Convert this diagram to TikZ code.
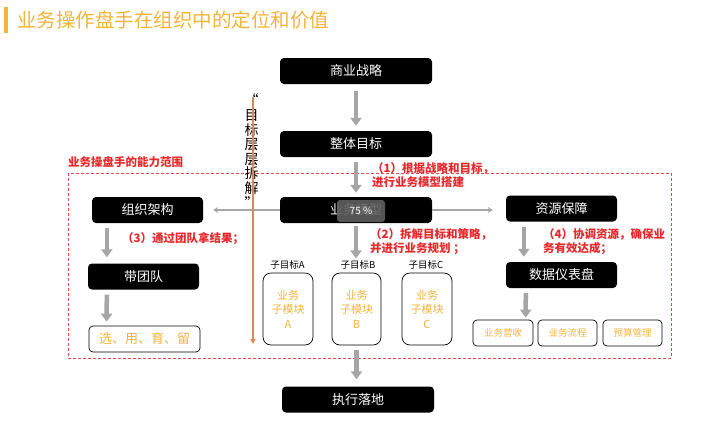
\documentclass[tikz,border=0pt]{standalone}
\usepackage{fontspec}
\newfontfamily\cjk{Noto Sans CJK SC}
\usetikzlibrary{arrows.meta}
\definecolor{gold}{HTML}{F3B43C}
\definecolor{redc}{HTML}{E8282B}
\definecolor{arrowgray}{HTML}{A6A6A6}
\definecolor{orangeline}{HTML}{E0874F}
\begin{document}
\begin{tikzpicture}[x=1pt,y=-1pt,
  blackbox/.style={fill=black, rounded corners=4pt, text=white, inner sep=0pt,
    minimum height=26pt, font=\cjk\fontsize{13}{13}\selectfont},
  whitebox/.style={draw=black, line width=0.7pt, fill=white, rounded corners=4pt, text=gold,
    inner sep=0pt, minimum height=26pt},
  subbox/.style={draw=black, line width=0.7pt, fill=white, rounded corners=8pt, text=gold,
    inner sep=0pt, minimum width=50pt, minimum height=72pt, align=center,
    font=\cjk\fontsize{11}{14.5}\selectfont},
  sublabel/.style={inner sep=0pt, font=\cjk\fontsize{9.5}{9.5}\selectfont},
  redtxt/.style={text=redc, inner sep=0pt, align=left, font=\cjk\bfseries\fontsize{11.5}{14}\selectfont},
  bigarrow/.style={draw=arrowgray, line width=4.5pt, -{Triangle[width=11pt,length=8pt]}},
  thinarrow/.style={draw=arrowgray, line width=1.4pt, -{Stealth[width=6pt,length=5pt]}}
]
\useasboundingbox (0,0) rectangle (720,424);
\fill[white] (0,0) rectangle (720,424);

% title
\fill[gold] (4,7) rectangle (8,33);
\node[anchor=west, inner sep=0pt, text=gold, font=\cjk\fontsize{19.5}{19.5}\selectfont] (title) at (17,20) {业务操作盘手在组织中的定位和价值};

% capability range
\draw[redc!85, line width=0.7pt, dash pattern=on 3pt off 2pt] (68,173) rectangle (671,358);
\node[redtxt, anchor=west] (range) at (68,162) {业务操盘手的能力范围};

% vertical text
\node[inner sep=0pt, align=center, font=\cjk\fontsize{14}{14.6}\selectfont] (vtext) at (251.5,151)
  {“\\目\\标\\层\\层\\拆\\解\\”};

% main column
\node[blackbox, minimum width=152pt] (sy) at (356,71) {商业战略};
\node[blackbox, minimum width=152pt] (zt) at (356,144) {整体目标};
\node[blackbox, minimum width=152pt] (ywmx) at (356,210) {业务模型};
\node[inner sep=0pt, rounded corners=3pt, fill={rgb,255:red,95;green,95;blue,95}, fill opacity=0.9,
  text opacity=1, text=white, minimum width=48pt, minimum height=22pt,
  font=\cjk\fontsize{10}{10}\selectfont] (pct) at (361,211) {75 \%};
\node[blackbox, minimum width=152pt] (zxld) at (358,399.5) {执行落地};

% sub modules
\node[sublabel] (lblA) at (287.5,265) {子目标A};
\node[sublabel] (lblB) at (358,265) {子目标B};
\node[sublabel] (lblC) at (426,265) {子目标C};
\node[subbox] (modA) at (288,309) {业务\\子模块\\A};
\node[subbox, minimum width=49pt] (modB) at (356.5,309) {业务\\子模块\\B};
\node[subbox] (modC) at (427,309) {业务\\子模块\\C};

% left column
\node[blackbox, minimum width=111pt] (zzjg) at (147.5,210) {组织架构};
\node[blackbox, minimum width=111pt] (dtd) at (143.5,276.5) {带团队};
\node[whitebox, minimum width=111pt, font=\cjk\fontsize{13}{13}\selectfont] (xyyl) at (144.5,339) {选、用、育、留};

% right column
\node[blackbox, minimum width=111pt] (zybz) at (561.5,208.5) {资源保障};
\node[blackbox, minimum width=111pt] (sjyb) at (561.5,275) {数据仪表盘};
\node[whitebox, minimum width=60pt, font=\cjk\fontsize{9.5}{9.5}\selectfont] (ywys) at (503,333) {业务营收};
\node[whitebox, minimum width=59pt, font=\cjk\fontsize{9.5}{9.5}\selectfont] (ywlc) at (567.5,333) {业务流程};
\node[whitebox, minimum width=59pt, font=\cjk\fontsize{9.5}{9.5}\selectfont] (ysgl) at (632.5,333) {预算管理};

% red annotations
\node[redtxt, anchor=north west] (t1) at (372,162) {（1）根据战略和目标，\\进行业务模型搭建};
\node[redtxt, anchor=north west] (t2) at (370,228) {（2）拆解目标和策略，\\并进行业务规划 ；};
\node[redtxt, anchor=west] (t3) at (122,239) {（3）通过团队拿结果；};
\node[redtxt, anchor=north west] (t4) at (543,228) {（4）协调资源，确保业\\务有效达成；};

% arrows main column
\draw[bigarrow, shorten <=7pt, shorten >=5pt] (sy.south) -- (zt.north);
\draw[bigarrow, shorten <=5pt, shorten >=4pt] (zt.south) -- (ywmx.north);
\draw[bigarrow, shorten <=3pt, shorten >=2pt] (ywmx.south) -- (ywmx.south |- lblB.north);
\draw[bigarrow, shorten <=5pt, shorten >=7pt] (modB.south) -- (modB.south |- zxld.north);

% arrows left column
\draw[bigarrow, shorten <=5pt, shorten >=6pt] ([xshift=15pt]zzjg.south west) -- ([xshift=19pt]dtd.north west);
\draw[bigarrow, shorten <=5pt, shorten >=4pt] ([xshift=19pt]dtd.south west) -- ([xshift=18pt]xyyl.north west);

% arrows right column
\draw[bigarrow, shorten <=5pt, shorten >=5pt] ([xshift=18pt]zybz.south west) -- ([xshift=18pt]sjyb.north west);
\draw[bigarrow, shorten <=5pt, shorten >=2pt] ([xshift=20pt]sjyb.south west) -- ([xshift=53pt]ywys.north west);

% horizontal connectors
\draw[thinarrow, shorten >=10pt] (ywmx.west) -- (zzjg.east);
\draw[thinarrow, shorten >=13pt] (ywmx.east) -- (ywmx.east -| zybz.west);

% orange decomposition line
\coordinate (vtop) at (253,97);
\coordinate (vbot) at (253,344);
\draw[orangeline, line width=1.8pt, -{Triangle[width=5pt,length=5pt]}] (vtop) -- (vbot);
\end{tikzpicture}
\end{document}
